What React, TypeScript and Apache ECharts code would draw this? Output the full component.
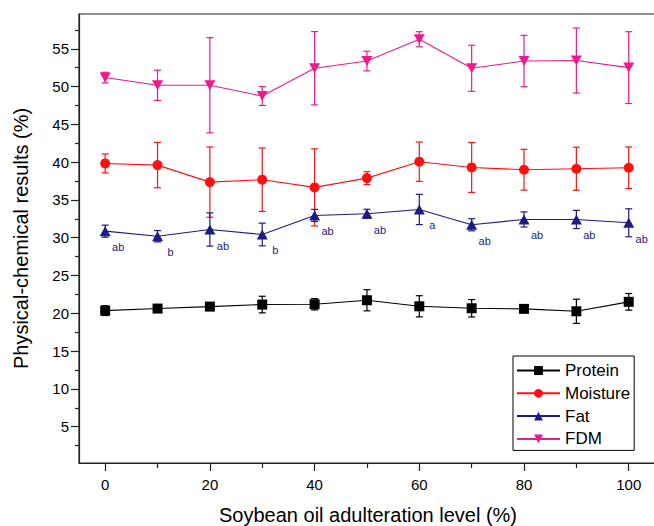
import React, { useEffect, useRef } from "react";
import * as echarts from "echarts";

const levels = [0, 10, 20, 30, 40, 50, 60, 70, 80, 90, 100];

const protein = [20.36, 20.63, 20.89, 21.16, 21.2, 21.73, 20.93, 20.67, 20.59, 20.27, 21.52];
const proteinErr = [0.65, 0.3, 0.5, 1.1, 0.75, 1.4, 1.4, 1.15, 0.3, 1.6, 1.1];

const moisture = [39.83, 39.61, 37.36, 37.68, 36.66, 37.89, 40.06, 39.3, 39.0, 39.13, 39.26];
const moistureErr = [1.25, 3.0, 4.65, 4.2, 5.1, 0.85, 2.6, 3.3, 2.7, 2.85, 2.75];

const fat = [30.87, 30.2, 31.09, 30.43, 32.95, 33.17, 33.74, 31.72, 32.42, 32.42, 31.98];
const fatErr = [0.8, 0.75, 2.2, 1.5, 0.8, 0.6, 2.0, 0.8, 1.0, 1.2, 1.85];
const fatLetters = ["ab", "b", "ab", "b", "ab", "ab", "a", "ab", "ab", "ab", "ab"];

const fdm = [51.19, 50.17, 50.17, 48.75, 52.42, 53.38, 56.26, 52.42, 53.38, 53.44, 52.51];
const fdmErr = [0.7, 2.0, 6.3, 1.25, 4.85, 1.3, 1.0, 3.05, 3.4, 4.3, 4.75];

const xMajorTicks = [0, 20, 40, 60, 80, 100];
const xMinorTicks = [10, 30, 50, 70, 90];
const yMajorTicks = [5, 10, 15, 20, 25, 30, 35, 40, 45, 50, 55];
const yMinorTicks = [2.5, 7.5, 12.5, 17.5, 22.5, 27.5, 32.5, 37.5, 42.5, 47.5, 52.5, 57.5];

const FONT = "Liberation Sans, Arial, sans-serif";
const AXIS_COLOR = "#222";

const COLORS = {
  Protein: "#000000",
  Moisture: "#ff1010",
  Fat: "#1e1b84",
  FDM: "#ec1a8c",
};

function errSeries(name: string, values: number[], errs: number[], color: string) {
  return {
    type: "custom",
    name: name + " error",
    xAxisIndex: 0,
    yAxisIndex: 0,
    z: 1,
    silent: true,
    encode: { x: 0, y: [1, 2] },
    data: levels.map((x, i) => [x, values[i] - errs[i], values[i] + errs[i]]),
    renderItem: (params: any, api: any) => {
      const x = api.value(0);
      const lo = api.value(1);
      const hi = api.value(2);
      const top = api.coord([x, hi]);
      const bot = api.coord([x, lo]);
      const cap = 3.5;
      const style = { stroke: color, lineWidth: 1.2 };
      return {
        type: "group",
        children: [
          { type: "line", shape: { x1: top[0], y1: top[1], x2: bot[0], y2: bot[1] }, style },
          { type: "line", shape: { x1: top[0] - cap, y1: top[1], x2: top[0] + cap, y2: top[1] }, style },
          { type: "line", shape: { x1: bot[0] - cap, y1: bot[1], x2: bot[0] + cap, y2: bot[1] }, style },
        ],
      };
    },
  };
}

function lineSeries(name: string, values: number[], color: string, symbol: string, size: any, rotate = 0) {
  return {
    type: "line",
    name,
    xAxisIndex: 0,
    yAxisIndex: 0,
    z: 3,
    data: levels.map((x, i) => [x, values[i]]),
    symbol,
    symbolSize: size,
    symbolRotate: rotate,
    showAllSymbol: true,
    itemStyle: { color },
    lineStyle: { color, width: 1.1 },
  };
}

export default function App() {
  const ref = useRef<HTMLDivElement>(null);

  useEffect(() => {
    if (!ref.current) return;
    const chart = echarts.init(ref.current, undefined, { renderer: "svg" });

    const fatLine: any = lineSeries("Fat", fat, COLORS.Fat, "triangle", [11, 10]);
    fatLine.label = {
      show: true,
      position: "inside",
      offset: [13, 16],
      formatter: (p: any) => fatLetters[p.dataIndex],
      color: COLORS.Fat,
      fontSize: 11,
      fontFamily: FONT,
    };

    const option: any = {
      animation: false,
      backgroundColor: "#ffffff",
      grid: {
        left: 79,
        top: 14,
        width: 578,
        height: 449,
        outerBoundsMode: "none",
        containLabel: false,
        show: true,
        borderColor: AXIS_COLOR,
        borderWidth: 1.2,
        backgroundColor: "transparent",
      },
      xAxis: [
        {
          type: "value",
          position: "bottom",
          min: -5,
          max: 105.4,
          name: "Soybean oil adulteration level (%)",
          nameLocation: "middle",
          nameGap: 42,
          nameTextStyle: { fontSize: 20, fontFamily: FONT, color: "#000" },
          axisLine: { show: true, onZero: false, lineStyle: { color: AXIS_COLOR, width: 1.2 } },
          axisTick: { show: true, inside: false, length: 8, customValues: xMajorTicks, lineStyle: { color: AXIS_COLOR, width: 1.2 } },
          axisLabel: { show: true, customValues: xMajorTicks, margin: 14, fontSize: 15, fontFamily: FONT, color: "#000" },
          splitLine: { show: false },
        },
        {
          type: "value",
          position: "bottom",
          min: -5,
          max: 105.4,
          axisLine: { show: false, onZero: false },
          axisTick: { show: true, inside: false, length: 5, customValues: xMinorTicks, lineStyle: { color: AXIS_COLOR, width: 1.2 } },
          axisLabel: { show: false },
          splitLine: { show: false },
        },
      ],
      yAxis: [
        {
          type: "value",
          position: "left",
          min: 0.2,
          max: 59.6,
          name: "Physical-chemical results (%)",
          nameLocation: "middle",
          nameGap: 48,
          nameTextStyle: { fontSize: 20, fontFamily: FONT, color: "#000" },
          axisLine: { show: true, onZero: false, lineStyle: { color: AXIS_COLOR, width: 1.2 } },
          axisTick: { show: true, inside: false, length: 8, customValues: yMajorTicks, lineStyle: { color: AXIS_COLOR, width: 1.2 } },
          axisLabel: { show: true, customValues: yMajorTicks, margin: 10, fontSize: 15, fontFamily: FONT, color: "#000" },
          splitLine: { show: false },
        },
        {
          type: "value",
          position: "left",
          min: 0.2,
          max: 59.6,
          axisLine: { show: false, onZero: false },
          axisTick: { show: true, inside: false, length: 4, customValues: yMinorTicks, lineStyle: { color: AXIS_COLOR, width: 1.2 } },
          axisLabel: { show: false },
          splitLine: { show: false },
        },
      ],
      legend: {
        orient: "vertical",
        left: 513,
        top: 356,
        data: ["Protein", "Moisture", "Fat", "FDM"],
        itemWidth: 43,
        itemHeight: 11,
        itemGap: 5.8,
        padding: [6, 4, 3, 3],
        borderColor: "#000",
        borderWidth: 1,
        backgroundColor: "#fff",
        textStyle: { fontSize: 17, fontFamily: FONT, color: "#000" },
      },
      series: [
        errSeries("Protein", protein, proteinErr, COLORS.Protein),
        errSeries("Moisture", moisture, moistureErr, COLORS.Moisture),
        errSeries("Fat", fat, fatErr, COLORS.Fat),
        errSeries("FDM", fdm, fdmErr, COLORS.FDM),
        lineSeries("Protein", protein, COLORS.Protein, "rect", 10),
        lineSeries("Moisture", moisture, COLORS.Moisture, "circle", 10),
        fatLine,
        lineSeries("FDM", fdm, COLORS.FDM, "triangle", [11, 10], 180),
      ],
    };

    chart.setOption(option);
    return () => chart.dispose();
  }, []);

  return (
    <div
      ref={ref}
      style={{ position: "fixed", left: 0, top: 0, width: 654, height: 526, background: "#fff" }}
    />
  );
}
